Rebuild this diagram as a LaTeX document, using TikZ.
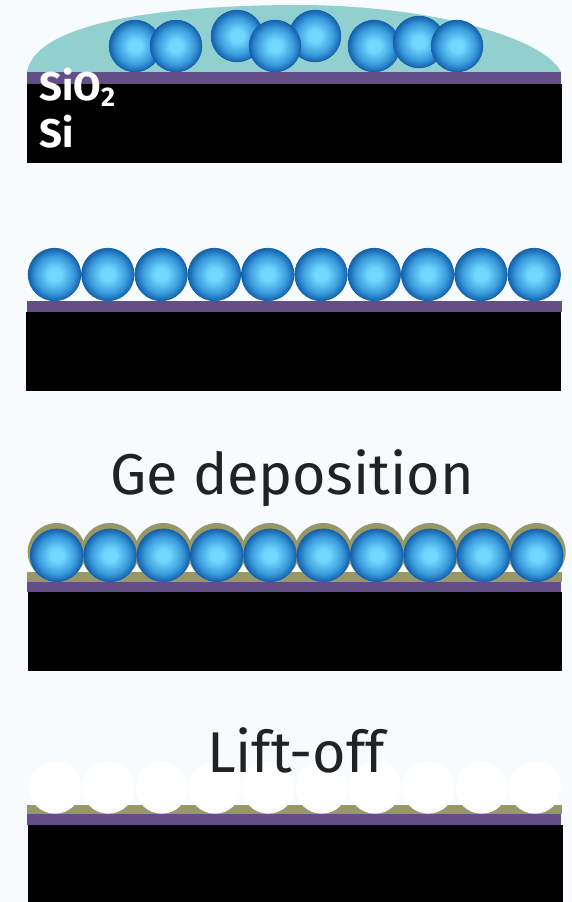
\documentclass[tikz,border=0pt]{standalone}
\usepackage{fontspec}
\setmainfont{Fira Sans}
\definecolor{bg}{HTML}{F7FBFD}
\definecolor{liquid}{HTML}{92D0D0}
\definecolor{oxide}{HTML}{634E88}
\definecolor{germanium}{HTML}{979768}
\definecolor{sphlight}{HTML}{72D8FF}
\definecolor{sphmid}{HTML}{3A9ADB}
\definecolor{sphdark}{HTML}{1462AD}
\definecolor{sphrim}{HTML}{1262AC}
\definecolor{label}{HTML}{222222}
% 25bp is the rim of the circle once TikZ fits the shading to the path
\pgfdeclareradialshading{spheresh}{\pgfpoint{0bp}{0bp}}{%
  color(0bp)=(sphlight); color(6bp)=(sphlight); color(18bp)=(sphmid);
  color(25bp)=(sphdark); color(50bp)=(sphdark)}
\tikzset{
  sphere/.style={shading=spheresh, draw=sphrim, line width=0.8pt},
  ghost/.style={fill=white},
  coat/.style={fill=germanium},
  caption/.style={text=label, font=\fontsize{57.5}{62}\selectfont, anchor=base, inner sep=0pt},
  layername/.style={text=white, font=\bfseries\fontsize{40}{44}\selectfont, anchor=base west, inner sep=0pt}
}
\begin{document}
\begin{tikzpicture}[x=1pt,y=-1pt]
\fill[bg] (0,0) rectangle (572,902);
\useasboundingbox (0,0) rectangle (572,902);

% ---- 1: colloidal suspension spread on the oxidised wafer
\fill[liquid] (27,72) .. controls (35,25) and (150,6) .. (290,5)
  .. controls (430,4) and (545,38) .. (561,72) -- cycle;
\foreach \x/\y in {135/46,176/46,237/36,315/36,275/46,374/46,419/42,457/46}
  \path[sphere] (\x,\y) circle[radius=25.8pt];
\fill[oxide] (27,72) rectangle (561,84);
\fill[black] (27,84) rectangle (562,163);
\node[layername] (sio) at (39,100) {SiO\raisebox{-6pt}{\fontsize{27}{30}\selectfont 2}};
\node[layername] (si) at (39,147) {Si};

% ---- 2: close-packed monolayer after drying
\foreach \i in {0,...,9}
  \path[sphere] ({54.5+53.3*\i},274.5) circle[radius=26.2pt];
\fill[oxide] (27,301) rectangle (562,312);
\fill[black] (26,312) rectangle (561,391);

% ---- 3: Ge deposited over the sphere mask
\node[caption] (dep) at (292,494) {Ge deposition};
\foreach \i in {0,...,9}
  \path[coat] ({56.7+53.33*\i},552) circle[radius=29pt];
\fill[germanium] (27,572) rectangle (562,582);
\foreach \i in {0,...,9}
  \path[sphere] ({56.7+53.33*\i},555.3) circle[radius=26.3pt];
\fill[oxide] (27,582) rectangle (561,592);
\fill[black] (28,592) rectangle (562,671);

% ---- 4: spheres removed, Ge left in the gaps
\fill[germanium] (27,805) rectangle (562,814);
\foreach \i in {0,...,9}
  \path[ghost] ({55+53.33*\i},787.5) circle[radius=26.2pt];
\fill[oxide] (27,814) rectangle (561,825);
\fill[black] (28,825) rectangle (563,902);
\node[caption] (lift) at (296,772) {Lift-off};
\end{tikzpicture}
\end{document}
